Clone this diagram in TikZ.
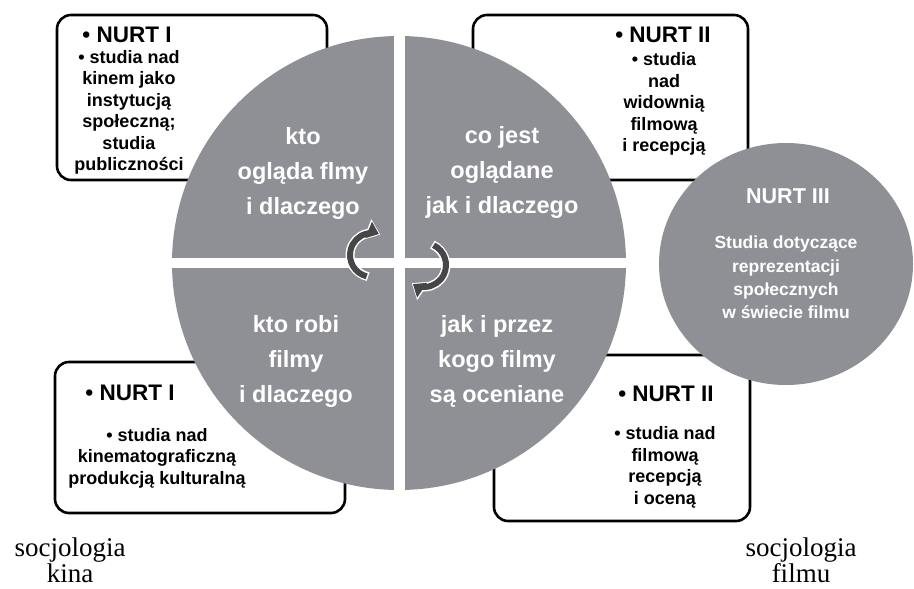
\documentclass[tikz,border=0pt]{standalone}
\usepackage{fontspec}
\setmainfont{Liberation Sans}
\newfontfamily\serifface{Liberation Serif}
\usetikzlibrary{arrows.meta,shapes.geometric}
\definecolor{quad}{RGB}{143,144,149}
\definecolor{arr}{RGB}{70,70,72}
\tikzset{
  box/.style={draw=black, line width=2.6pt, rounded corners=14pt, fill=white, inner sep=0pt, rectangle},
  nurt/.style={font=\fontsize{22.5}{24}\selectfont\bfseries, text=black, inner sep=0pt},
  subtxt/.style={font=\fontsize{18}{21.5}\selectfont\bfseries, text=black, align=center, inner sep=0pt},
  quadtxt/.style={font=\fontsize{23.5}{35}\selectfont\bfseries, text=white, align=center, inner sep=0pt},
  nurtw/.style={font=\fontsize{21.5}{24}\selectfont\bfseries, text=white, inner sep=0pt},
  circtxt/.style={font=\fontsize{17.5}{23.3}\selectfont\bfseries, text=white, align=center, inner sep=0pt},
  caption/.style={font=\serifface\fontsize{27}{26}\selectfont, align=center, inner sep=0pt},
  arrout/.style={white, line width=9pt, -{Triangle[length=14pt,width=21pt]}, shorten <=-1.5pt},
  arrin/.style={arr, line width=6pt, -{Triangle[length=11pt,width=17pt]}, shorten >=1.5pt},
}
\begin{document}
\begin{tikzpicture}[x=1pt,y=-1pt]
\useasboundingbox (0,0) rectangle (914,589);
% boxes
\node[box, minimum width=270pt, minimum height=165pt] (tl) at (192,97.5) {};
\node[box, minimum width=275pt, minimum height=165pt] (tr) at (610.5,97.5) {};
\node[box, minimum width=290pt, minimum height=151pt] (bl) at (200,437.5) {};
\node[box, minimum width=256pt, minimum height=166pt] (br) at (622,438) {};
% main circle
\node[circle, fill=quad, minimum size=454pt, inner sep=0pt] (main) at (399,263) {};
\draw[white, line width=11pt, shorten <=-3pt, shorten >=-3pt] (main.north) -- (main.south);
\draw[white, line width=10pt, shorten <=-3pt, shorten >=-3pt] (main.west) -- (main.east);
% NURT III
\node[ellipse, fill=quad, minimum width=254pt, minimum height=242pt, inner sep=0pt] (n3) at (786,264) {};
% box texts
\node[nurt] (tln) at (127,35) {• NURT I};
\node[subtxt] (tls) at (129,112.5) {• studia nad\\kinem jako\\instytucją\\społeczną;\\studia\\publiczności};
\node[nurt] (trn) at (663,35) {• NURT II};
\node[subtxt] (trs) at (664,104) {• studia\\nad\\widownią\\filmową\\i recepcją};
\node[nurt] (bln) at (130,393) {• NURT I};
\node[subtxt] (bls) at (157,458) {• studia nad\\kinematograficzną\\produkcją kulturalną};
\node[nurt] (brn) at (666,394) {• NURT II};
\node[subtxt] (brs) at (665,467.5) {• studia nad\\filmową\\recepcją\\i oceną};
% quadrant texts
\node[quadtxt] (q1) at (303,173) {kto\\ogląda flmy\\i dlaczego};
\node[quadtxt] (q2) at (502,172) {co jest\\oglądane\\jak i dlaczego};
\node[quadtxt] (q3) at (296,361) {kto robi\\filmy\\i dlaczego};
\node[quadtxt] (q4) at (497,361) {jak i przez\\kogo filmy\\są oceniane};
% NURT III texts
\node[nurtw] (n3t) at (788,196) {NURT III};
\node[circtxt] (n3s) at (786,277.5) {Studia dotyczące\\reprezentacji\\społecznych\\w świecie filmu};
% arrows
\coordinate (lc) at (372,255);
\coordinate (rc) at (424,265);
\draw[arrout] (lc) ++(104:22) arc[start angle=104, end angle=292, radius=22];
\draw[arrin] (lc) ++(104:22) arc[start angle=104, end angle=292, radius=22];
\draw[arrout] (rc) ++(-64:22) arc[start angle=-64, end angle=124, radius=22];
\draw[arrin] (rc) ++(-64:22) arc[start angle=-64, end angle=124, radius=22];
% captions
\node[caption] (c1) at (70,560) {socjologia\\kina};
\node[caption] (c2) at (801,560) {socjologia\\filmu};
\end{tikzpicture}
\end{document}
